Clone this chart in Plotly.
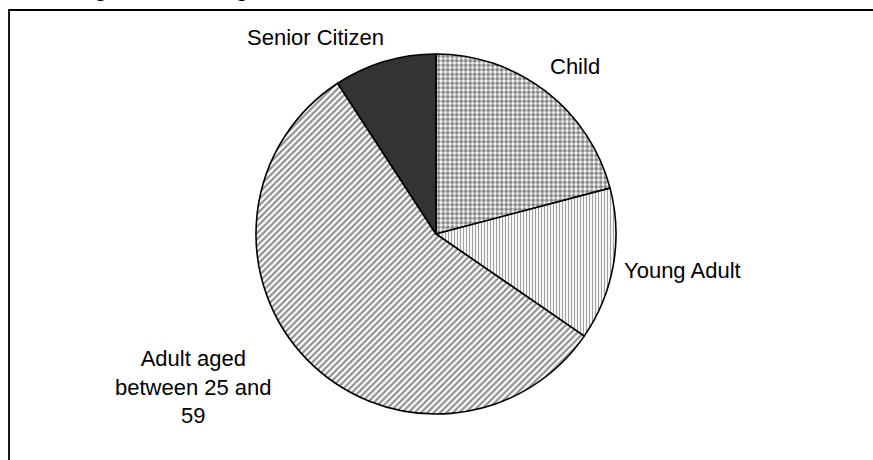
import plotly.graph_objects as go

# Data
categories = ["Child", "Young Adult", "Adult aged<br>between 25 and<br>59", "Senior Citizen"]
values = [20.9, 13.7, 56.2, 9.2]
title_text = "Ages of Passengers"

W, H = 873, 460

def px(x):
    return x / W

def py(y):
    return 1 - y / H

cx, cy, r = 436, 234, 180

fig = go.Figure(go.Pie(
    labels=categories,
    values=values,
    sort=False,
    direction="clockwise",
    rotation=0,
    textinfo="none",
    hoverinfo="label+percent",
    showlegend=False,
    marker=dict(
        colors=["white", "white", "white", "#333333"],
        line=dict(color="black", width=1.6),
        pattern=dict(
            shape=[".", "|", "/", ""],
            fgcolor=["#111111", "#444444", "#222222", "#333333"],
            bgcolor=["white", "white", "white", "#333333"],
            size=[4.5, 3, 4.5, 8],
            solidity=[0.6, 0.4, 0.5, 0.5],
            fillmode="overlay",
        ),
    ),
    domain=dict(x=[px(cx - r), px(cx + r)], y=[py(cy + r), py(cy - r)]),
))

font = dict(family="Arial, Liberation Sans, sans-serif", size=22, color="black")

label_pos = [(575, 67), (682, 270), (193, 387), (315, 38)]
annotations = []
for lab, (x, y) in zip(categories, label_pos):
    annotations.append(dict(
        text=lab, x=px(x), y=py(y), xref="paper", yref="paper",
        showarrow=False, xanchor="center", yanchor="middle",
        font=font, align="center",
    ))

# title, mostly cropped at the top of the picture (as in the reference)
annotations.append(dict(
    text="<b>" + title_text + "</b>", x=px(77), y=py(-11), xref="paper", yref="paper",
    showarrow=False, xanchor="left", yanchor="middle",
    font=dict(family="Arial, Liberation Sans, sans-serif", size=21, color="black"),
))

fig.update_layout(
    width=W, height=H,
    margin=dict(l=0, r=0, t=0, b=0),
    paper_bgcolor="white",
    plot_bgcolor="white",
    annotations=annotations,
    shapes=[dict(
        type="rect", xref="paper", yref="paper",
        x0=px(9), x1=1.05, y0=-0.05, y1=py(10),
        line=dict(color="black", width=1.8), fillcolor="rgba(0,0,0,0)",
        layer="below",
    )],
)

fig.write_html("out.html", config={"displayModeBar": False},
               post_script="document.body.style.margin='0px';")
